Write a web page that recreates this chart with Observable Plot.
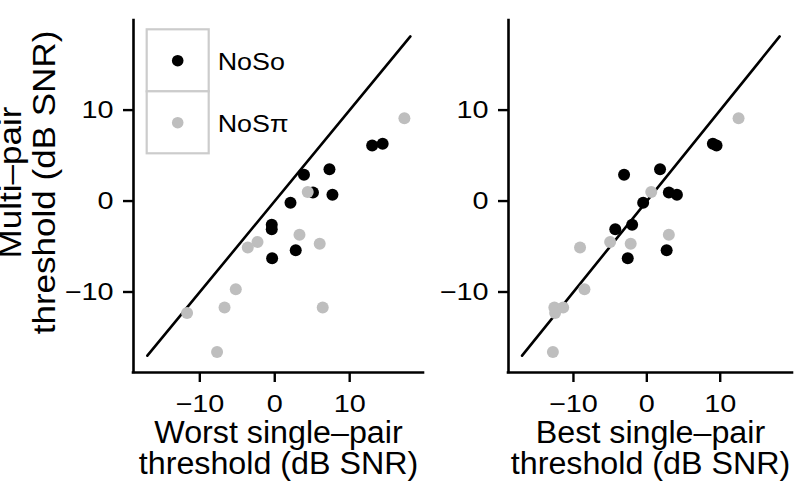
<!DOCTYPE html>
<html>
<head>
<meta charset="utf-8">
<script src="https://cdn.jsdelivr.net/npm/d3@7"></script>
<script src="https://cdn.jsdelivr.net/npm/@observablehq/plot@0.6"></script>
<style>
  html, body { margin: 0; padding: 0; background: #fff; }
  #chart { position: relative; width: 794px; height: 486px; overflow: hidden; }
  #chart svg { position: absolute; top: 0; }
</style>
</head>
<body>
<div id="chart"></div>
<script>
// ---- data ----
const conditions = ["NoSo", "NoSπ"];
const conditionColors = ["#000000", "#bebebe"];

// NoSo
const multiNoSo = [6.1, 6.3, 2.9, 3.5, 0.95, 0.7, -0.2, -2.6, -3.1, -5.4, -6.3];
const worstNoSo = [13.0, 14.4, 3.9, 7.3, 5.1, 7.7, 2.1, -0.4, -0.4, 2.8, -0.35];
const bestNoSo  = [9.5, 9.0, -3.1, 1.8, 3.0, 4.1, -0.5, -2.0, -4.3, 2.7, -2.6];

// NoSπ
const multiNoSpi = [9.1, 1.0, -3.7, -4.5, -4.7, -5.1, -9.7, -11.7, -11.7, -12.3, -16.6];
const worstNoSpi = [17.3, 4.4, 3.3, -2.3, 6.0, -3.6, -5.2, -6.7, 6.4, -11.7, -7.7];
const bestNoSpi  = [12.5, 0.6, 3.0, -5.0, -2.2, -9.1, -8.5, -12.6, -11.4, -12.5, -12.8];

const identityRange = [-17, 18.1];
const axisDomain = [-18.85, 19.85];
const tickValues = [-10, 0, 10];

const yTitle = "Multi–pair\nthreshold (dB SNR)";
const xTitleWorst = "Worst single–pair\nthreshold (dB SNR)";
const xTitleBest = "Best single–pair\nthreshold (dB SNR)";

// ---- build table ----
const rows = [];
multiNoSo.forEach((m, i) => rows.push({condition: conditions[0], multi: m, worst: worstNoSo[i], best: bestNoSo[i]}));
multiNoSpi.forEach((m, i) => rows.push({condition: conditions[1], multi: m, worst: worstNoSpi[i], best: bestNoSpi[i]}));
const identity = identityRange.map(v => ({x: v, y: v}));

const FONT = "'Liberation Sans', Arial, Helvetica, sans-serif";
const fmt = d => d < 0 ? "\u2212" + Math.abs(d) : String(d);

function stretch(nodes, sx) {
  nodes.each(function () {
    const t = this.getAttribute("transform");
    if (t) {
      this.setAttribute("transform", t + ` scale(${sx},1)`);
    } else {
      const x = +(this.getAttribute("x") || 0), y = +(this.getAttribute("y") || 0);
      this.removeAttribute("x"); this.removeAttribute("y");
      this.setAttribute("transform", `translate(${x},${y}) scale(${sx},1)`);
    }
  });
}

function panel({xKey, xTitle, width, marginLeft, marginRight, withYTitle}) {
  const marks = [
    Plot.line(identity, {x: "x", y: "y", stroke: "black", strokeWidth: 2.6}),
    Plot.dot(rows, {x: xKey, y: "multi", fill: "condition", r: 6, stroke: "none"}),
    Plot.ruleX([axisDomain[0]], {stroke: "black", strokeWidth: 2.6, strokeLinecap: "square"}),
    Plot.ruleY([axisDomain[0]], {stroke: "black", strokeWidth: 2.6, strokeLinecap: "square"}),
    Plot.axisX({ticks: tickValues, tickFormat: fmt, tickSize: 10, tickPadding: 12, strokeWidth: 2.4, label: null, fontSize: 24}),
    Plot.axisY({ticks: tickValues, tickFormat: fmt, tickSize: 10, tickPadding: 10, strokeWidth: 2.4, label: null, fontSize: 24}),
    Plot.text([xTitle], {text: d => d, frameAnchor: "bottom", textAnchor: "middle", dy: 75.6, fontSize: 31, lineHeight: 1.0, lineAnchor: "middle", fill: "black"})
  ];
  if (withYTitle) {
    marks.push(Plot.text([yTitle], {text: d => d, frameAnchor: "left", textAnchor: "middle", rotate: -90, dx: -106, dy: -14, fontSize: 31, lineHeight: 1.08, lineAnchor: "middle", fill: "black"}));
  }
  const svg = Plot.plot({
    width, height: 486,
    marginTop: 20, marginBottom: 114, marginLeft, marginRight,
    style: {fontFamily: FONT, fontSize: "24px", color: "black", background: "white", overflow: "visible"},
    x: {domain: axisDomain},
    y: {domain: axisDomain},
    color: {domain: conditions, range: conditionColors},
    marks
  });
  const s = d3.select(svg);
  stretch(s.selectAll('g[aria-label="x-axis tick label"] text, g[aria-label="y-axis tick label"] text'), 1.2);
  const titles = s.selectAll('g[aria-label="text"] text');
  stretch(titles.filter(function () { return this.textContent.includes("Multi"); }), 1.13);
  stretch(titles.filter(function () { return !this.textContent.includes("Multi"); }), 1.04);
  return svg;
}

const left = panel({xKey: "worst", xTitle: xTitleWorst, width: 430, marginLeft: 133, marginRight: 7, withYTitle: true});
const right = panel({xKey: "best", xTitle: xTitleBest, width: 364, marginLeft: 78, marginRight: 2, withYTitle: false});
left.style.left = "0px";
right.style.left = "430px";

// legend inside left panel
const lg = d3.select(left).append("g").attr("transform", "translate(146.7,29.3)");
const cell = 62;
conditions.forEach((c, i) => {
  const g = lg.append("g").attr("transform", `translate(0,${i * cell})`);
  g.append("rect").attr("width", cell).attr("height", cell)
    .attr("fill", "white").attr("stroke", "#cccccc").attr("stroke-width", 2.2);
  g.append("circle").attr("cx", 31).attr("cy", 31.4).attr("r", 5.8).attr("fill", conditionColors[i]);
  g.append("text").attr("transform", "translate(71,40.7) scale(1.12,1)")
    .attr("text-anchor", "start").attr("font-size", 24)
    .attr("font-family", FONT).attr("fill", "black").text(c);
});

const chart = document.getElementById("chart");
chart.appendChild(left);
chart.appendChild(right);
</script>
</body>
</html>
